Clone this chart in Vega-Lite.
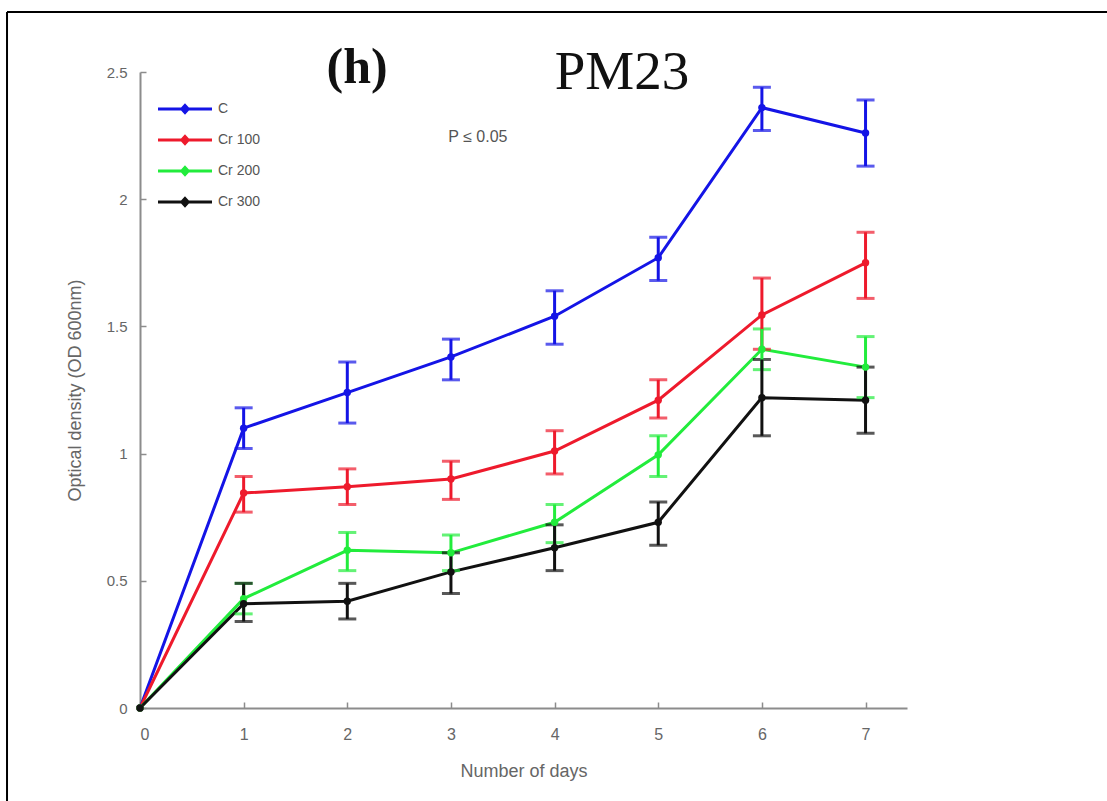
{
  "$schema": "https://vega.github.io/schema/vega-lite/v6.json",
  "width": 767,
  "height": 636,
  "autosize": {"type": "none"},
  "padding": {"left": 140, "top": 72, "right": 200, "bottom": 93},
  "background": "white",
  "config": {
    "view": {"stroke": null},
    "font": "Liberation Sans",
    "axis": {
      "domainColor": "#8c8c8c",
      "domainWidth": 2,
      "tickColor": "#8c8c8c",
      "tickWidth": 1.5,
      "grid": false,
      "labelColor": "#666666",
      "titleColor": "#666666",
      "labelFont": "Liberation Sans",
      "titleFont": "Liberation Sans",
      "titleFontWeight": "normal"
    }
  },
  "layer": [
    {
      "data": {"values": [{}]},
      "mark": {"type": "rule", "color": "black", "strokeWidth": 2, "clip": false},
      "encoding": {
        "x": {"datum": -1.283, "type": "quantitative", "scale": {"domain": [0, 7.4], "nice": false}, "title": "Number of days"},
        "x2": {"datum": 9.4},
        "y": {"datum": 2.736, "type": "quantitative", "scale": {"domain": [0, 2.5], "nice": false}, "title": "Optical density (OD 600nm)"}
      }
    },
    {
      "data": {"values": [{}]},
      "mark": {"type": "rule", "color": "black", "strokeWidth": 2, "clip": false},
      "encoding": {
        "x": {"datum": -1.283, "type": "quantitative", "scale": {"domain": [0, 7.4], "nice": false}, "title": "Number of days"},
        "y": {"datum": 2.736, "type": "quantitative", "scale": {"domain": [0, 2.5], "nice": false}, "title": "Optical density (OD 600nm)"},
        "y2": {"datum": -0.4}
      }
    },
    {
      "data": {"values": [{"label": "(h)"}]},
      "mark": {"type": "text", "font": "Liberation Serif", "fontSize": 50, "fontWeight": "bold", "color": "#111111", "baseline": "middle", "align": "center"},
      "encoding": {
        "x": {"datum": 2.094, "type": "quantitative", "scale": {"domain": [0, 7.4], "nice": false}, "title": "Number of days"},
        "y": {"datum": 2.516, "type": "quantitative", "scale": {"domain": [0, 2.5], "nice": false}, "title": "Optical density (OD 600nm)"},
        "text": {"field": "label"}
      }
    },
    {
      "data": {"values": [{"label": "PM23"}]},
      "mark": {"type": "text", "font": "Liberation Serif", "fontSize": 55, "color": "#111111", "baseline": "middle", "align": "center"},
      "encoding": {
        "x": {"datum": 4.65, "type": "quantitative", "scale": {"domain": [0, 7.4], "nice": false}, "title": "Number of days"},
        "y": {"datum": 2.5, "type": "quantitative", "scale": {"domain": [0, 2.5], "nice": false}, "title": "Optical density (OD 600nm)"},
        "text": {"field": "label"}
      }
    },
    {
      "data": {"values": [{"label": "P ≤ 0.05"}]},
      "mark": {"type": "text", "font": "Liberation Sans", "fontSize": 16, "color": "#555555", "baseline": "middle", "align": "center"},
      "encoding": {
        "x": {"datum": 3.26, "type": "quantitative", "scale": {"domain": [0, 7.4], "nice": false}, "title": "Number of days"},
        "y": {"datum": 2.245, "type": "quantitative", "scale": {"domain": [0, 2.5], "nice": false}, "title": "Optical density (OD 600nm)"},
        "text": {"field": "label"}
      }
    },
    {
      "data": {
        "values": [
          {"group": "C", "day": 0, "od": 0, "lo": null, "hi": null},
          {"group": "C", "day": 1, "od": 1.10, "lo": 1.02, "hi": 1.18},
          {"group": "C", "day": 2, "od": 1.24, "lo": 1.12, "hi": 1.36},
          {"group": "C", "day": 3, "od": 1.38, "lo": 1.29, "hi": 1.45},
          {"group": "C", "day": 4, "od": 1.54, "lo": 1.43, "hi": 1.64},
          {"group": "C", "day": 5, "od": 1.77, "lo": 1.68, "hi": 1.85},
          {"group": "C", "day": 6, "od": 2.36, "lo": 2.27, "hi": 2.44},
          {"group": "C", "day": 7, "od": 2.26, "lo": 2.13, "hi": 2.39},
          {"group": "Cr 100", "day": 0, "od": 0, "lo": null, "hi": null},
          {"group": "Cr 100", "day": 1, "od": 0.845, "lo": 0.77, "hi": 0.91},
          {"group": "Cr 100", "day": 2, "od": 0.87, "lo": 0.80, "hi": 0.94},
          {"group": "Cr 100", "day": 3, "od": 0.90, "lo": 0.82, "hi": 0.97},
          {"group": "Cr 100", "day": 4, "od": 1.01, "lo": 0.92, "hi": 1.09},
          {"group": "Cr 100", "day": 5, "od": 1.21, "lo": 1.14, "hi": 1.29},
          {"group": "Cr 100", "day": 6, "od": 1.545, "lo": 1.41, "hi": 1.69},
          {"group": "Cr 100", "day": 7, "od": 1.75, "lo": 1.61, "hi": 1.87},
          {"group": "Cr 200", "day": 0, "od": 0, "lo": null, "hi": null},
          {"group": "Cr 200", "day": 1, "od": 0.43, "lo": 0.37, "hi": 0.49},
          {"group": "Cr 200", "day": 2, "od": 0.62, "lo": 0.54, "hi": 0.69},
          {"group": "Cr 200", "day": 3, "od": 0.61, "lo": 0.54, "hi": 0.68},
          {"group": "Cr 200", "day": 4, "od": 0.73, "lo": 0.65, "hi": 0.80},
          {"group": "Cr 200", "day": 5, "od": 0.995, "lo": 0.91, "hi": 1.07},
          {"group": "Cr 200", "day": 6, "od": 1.41, "lo": 1.33, "hi": 1.49},
          {"group": "Cr 200", "day": 7, "od": 1.34, "lo": 1.22, "hi": 1.46},
          {"group": "Cr 300", "day": 0, "od": 0, "lo": null, "hi": null},
          {"group": "Cr 300", "day": 1, "od": 0.41, "lo": 0.34, "hi": 0.49},
          {"group": "Cr 300", "day": 2, "od": 0.42, "lo": 0.35, "hi": 0.49},
          {"group": "Cr 300", "day": 3, "od": 0.535, "lo": 0.45, "hi": 0.61},
          {"group": "Cr 300", "day": 4, "od": 0.63, "lo": 0.54, "hi": 0.72},
          {"group": "Cr 300", "day": 5, "od": 0.73, "lo": 0.64, "hi": 0.81},
          {"group": "Cr 300", "day": 6, "od": 1.22, "lo": 1.07, "hi": 1.37},
          {"group": "Cr 300", "day": 7, "od": 1.21, "lo": 1.08, "hi": 1.34}
        ]
      },
      "encoding": {
        "color": {
          "field": "group",
          "type": "nominal",
          "sort": ["C", "Cr 100", "Cr 200", "Cr 300"],
          "scale": {"domain": ["C", "Cr 100", "Cr 200", "Cr 300"], "range": ["#1414e6", "#ee1a2c", "#22ec3c", "#111111"]},
          "legend": {
            "title": null,
            "orient": "none",
            "legendX": 30,
            "legendY": 22,
            "symbolType": "M-2,0H2M0,-0.26L0.24,0L0,0.26L-0.24,0Z",
            "symbolSize": 729,
            "symbolStrokeWidth": 3,
            "symbolOpacity": 1,
            "rowPadding": 6,
            "labelFont": "Liberation Sans",
            "labelFontSize": 14,
            "labelColor": "#555555",
            "labelOffset": 18
          }
        }
      },
      "layer": [
        {
          "mark": {"type": "line", "strokeWidth": 3},
          "encoding": {
            "x": {"field": "day", "type": "quantitative", "scale": {"domain": [0, 7.4], "nice": false}, "title": "Number of days",
              "axis": {"values": [0, 1, 2, 3, 4, 5, 6, 7], "format": "~g", "tickSize": -6, "labelPadding": 24, "labelFontSize": 16, "titleFontSize": 18, "titlePadding": 20}},
            "y": {"field": "od", "type": "quantitative", "scale": {"domain": [0, 2.5], "nice": false}, "title": "Optical density (OD 600nm)",
              "axis": {"values": [0, 0.5, 1, 1.5, 2, 2.5], "format": "~g", "tickSize": -6, "labelPadding": 19, "labelFontSize": 15, "titleFontSize": 18, "titlePadding": 22}}
          }
        },
        {
          "transform": [{"filter": "datum.day > 0"}],
          "mark": {"type": "errorbar", "thickness": 3, "ticks": {"size": 18, "thickness": 3}},
          "encoding": {
            "x": {"field": "day", "type": "quantitative", "title": "Number of days"},
            "y": {"field": "lo", "type": "quantitative", "title": "Optical density (OD 600nm)"},
            "y2": {"field": "hi"}
          }
        },
        {
          "mark": {"type": "point", "filled": true, "size": 55, "opacity": 1},
          "encoding": {
            "x": {"field": "day", "type": "quantitative", "title": "Number of days"},
            "y": {"field": "od", "type": "quantitative", "title": "Optical density (OD 600nm)"}
          }
        }
      ]
    }
  ]
}
